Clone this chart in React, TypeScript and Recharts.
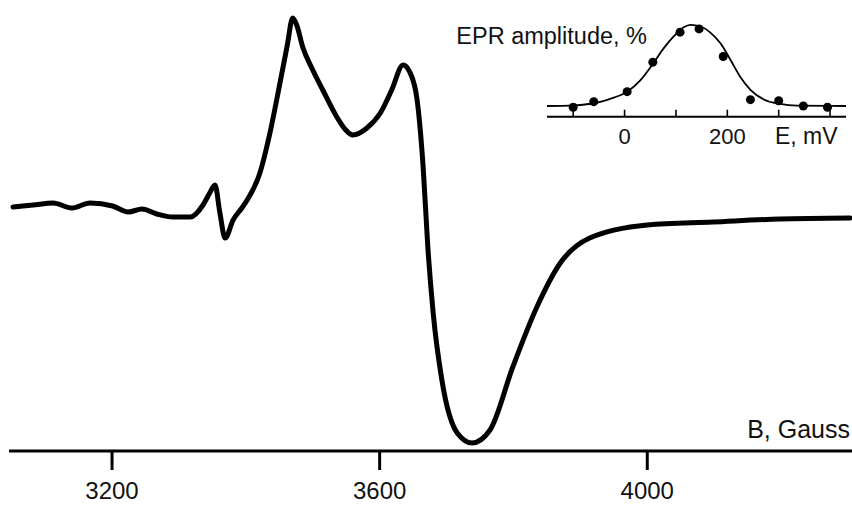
import React from 'react';
import { LineChart, ComposedChart, Line, XAxis, YAxis } from 'recharts';

// Main EPR spectrum: magnetic field (Gauss) and signal (arbitrary units)
const fieldB = [
  3052, 3082, 3112, 3140, 3167, 3201, 3224, 3245, 3267, 3291, 3317, 3336, 3346, 3354, 3361,
  3369, 3381, 3394, 3402, 3421, 3436, 3451, 3462, 3470, 3476, 3485, 3500, 3515, 3536, 3548,
  3560, 3581, 3601, 3618, 3635, 3645, 3656, 3665, 3672, 3680, 3693, 3716, 3738, 3765, 3799,
  3835, 3870, 3914, 4000, 4098, 4198, 4303,
];
const eprSignal = [
  11, 13, 15, 10, 15, 12, 6, 9, 4, 1, 1, 13, 25, 33, 6,
  -20, -2, 10, 18, 45, 85, 135, 173, 200, 193, 171, 148, 128, 101, 89,
  83, 90, 105, 128, 153, 146, 118, 51, -29, -95, -162, -215, -225, -212, -149,
  -89, -45, -20, -7, -4, -1, 0,
];
const fieldTicks = [3200, 3600, 4000];

// Inset: redox titration, fitted curve
const curvePotential = [
  -151, -99, -54, -21, 5, 31, 53, 76, 96, 115, 128, 148, 167, 187, 206, 225, 245, 271, 303, 336, 431,
];
const curveAmplitude = [
  0, 0.8, 4, 10.3, 17.7, 32, 50, 71, 86, 97, 100, 98, 90.5, 77, 57, 36, 20, 8, 2.5, 0.5, 0,
];
// Inset: measured points
const pointPotential = [-100, -60, 5, 55, 108, 145, 192, 245, 300, 348, 395];
const pointAmplitude = [-1.6, 5.3, 17.7, 54, 91, 95, 61, 7.8, 6.5, 0, -1.6];
const potentialTicks = [-100, 0, 100, 200, 300, 400];
const labelledPotentials = [0, 200];

const spectrumData = fieldB.map((b, i) => ({ B: b, v: eprSignal[i] }));
const curveData = curvePotential.map((e, i) => ({ E: e, amp: curveAmplitude[i] }));
const pointData = pointPotential.map((e, i) => ({ E: e, amp: pointAmplitude[i] }));

const FONT = '"Liberation Sans", Arial, Helvetica, sans-serif';

const MainTick = (props: any) => {
  const { x, y, payload } = props;
  return (
    <g>
      <line x1={x} x2={x} y1={y} y2={y + 19} stroke="#000" strokeWidth={3} />
      <text x={x} y={y + 48} textAnchor="middle" fontSize={24} fontFamily={FONT} fill="#111">
        {payload.value}
      </text>
    </g>
  );
};

const InsetTick = (props: any) => {
  const { x, y, payload } = props;
  const show = labelledPotentials.includes(payload.value);
  return (
    <g>
      <line x1={x} x2={x} y1={y} y2={y - 7} stroke="#000" strokeWidth={1.6} />
      {show && (
        <text x={x} y={y + 27} textAnchor="middle" fontSize={22} fontFamily={FONT} fill="#111">
          {payload.value}
        </text>
      )}
    </g>
  );
};

export default function App() {
  return (
    <div style={{ position: 'absolute', left: 0, top: 0, width: 852, height: 505, background: '#fff' }}>
      <div style={{ position: 'absolute', left: 0, top: 0 }}>
        <LineChart width={852} height={505} data={spectrumData} margin={{ top: 0, right: 0, left: 9, bottom: 0 }}>
          <XAxis
            dataKey="B"
            type="number"
            domain={[3046, 4306]}
            ticks={fieldTicks}
            interval={0}
            height={54}
            axisLine={{ stroke: '#000', strokeWidth: 3 }}
            tickLine={false}
            tickSize={0}
            tickMargin={0}
            tick={<MainTick />}
            allowDataOverflow
          />
          <YAxis hide domain={[-233, 218]} allowDataOverflow />
          <Line
            dataKey="v"
            type="monotone"
            stroke="#000"
            strokeWidth={5}
            strokeLinejoin="round"
            strokeLinecap="round"
            dot={false}
            isAnimationActive={false}
          />
          <text x={850} y={438} textAnchor="end" fontSize={25} fontFamily={FONT} fill="#111">
            B, Gauss
          </text>
        </LineChart>
      </div>
      <div style={{ position: 'absolute', left: 440, top: 0 }}>
        <ComposedChart width={412} height={160} margin={{ top: 20, right: 6, left: 107, bottom: 0 }}>
          <XAxis
            dataKey="E"
            type="number"
            domain={[-151, 431]}
            ticks={potentialTicks}
            interval={0}
            height={43.3}
            axisLine={{ stroke: '#000', strokeWidth: 2 }}
            tickLine={false}
            tickSize={0}
            tickMargin={0}
            tick={<InsetTick />}
            allowDataOverflow
          />
          <YAxis hide domain={[-13.2, 106]} allowDataOverflow />
          <Line
            data={curveData}
            dataKey="amp"
            type="monotone"
            stroke="#000"
            strokeWidth={1.8}
            dot={false}
            isAnimationActive={false}
          />
          <Line
            data={pointData}
            dataKey="amp"
            stroke="none"
            dot={{ r: 4.5, fill: '#000', stroke: 'none' }}
            isAnimationActive={false}
          />
          <text x={207} y={44} textAnchor="end" fontSize={23.5} fontFamily={FONT} fill="#111">
            EPR amplitude, %
          </text>
          <text x={335} y={144} textAnchor="start" fontSize={23} fontFamily={FONT} fill="#111">
            E, mV
          </text>
        </ComposedChart>
      </div>
    </div>
  );
}
